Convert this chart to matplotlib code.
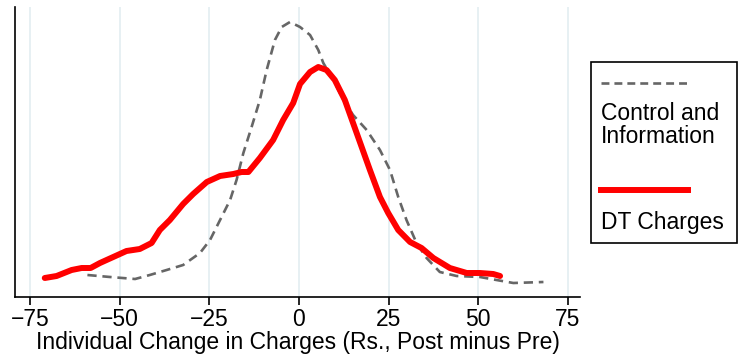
import numpy as np
import matplotlib.pyplot as plt
from matplotlib.patches import Rectangle
from matplotlib.lines import Line2D

plt.rcParams['font.family'] = ['Liberation Sans', 'DejaVu Sans']

# DT Charges (densidad estimada)
x_dt = [-70.9, -67.6, -63.4, -60.6, -58.1, -55.5, -51.8, -48.1, -44.4, -41.1,
        -38.8, -36.0, -32.3, -29.5, -25.7, -22.0, -18.3, -16.0, -14.1, -10.9,
        -7.2, -4.4, -1.6, 0.3, 3.1, 5.4, 7.7, 10.0, 12.8, 15.1,
        17.5, 19.8, 22.6, 24.9, 27.7, 31.0, 34.2, 37.5, 42.1, 46.8,
        50.5, 54.2, 56.1]
y_dt = [0.0019, 0.0021, 0.0027, 0.0029, 0.0029, 0.0034, 0.0040, 0.0046, 0.0048, 0.0054,
        0.0067, 0.0077, 0.0093, 0.0103, 0.0115, 0.0121, 0.0123, 0.0125, 0.0125, 0.0139,
        0.0157, 0.0177, 0.0194, 0.0213, 0.0225, 0.0230, 0.0227, 0.0217, 0.0197, 0.0174,
        0.0150, 0.0127, 0.0100, 0.0084, 0.0067, 0.0055, 0.0049, 0.0039, 0.0029, 0.0024,
        0.0024, 0.0023, 0.0021]

# Control and Information
x_ctrl = [-59.0, -52.7, -45.7, -41.6, -36.9, -32.3, -27.6, -24.8, -22.0, -19.2,
          -17.4, -15.5, -13.2, -10.9, -9.0, -6.7, -4.8, -2.5, 0.3, 3.1,
          5.4, 6.8, 9.6, 12.4, 15.1, 18.9, 22.6, 25.4, 27.7, 30.0,
          32.8, 35.6, 39.3, 44.0, 50.5, 55.1, 59.8, 68.2]
y_ctrl = [0.0022, 0.0020, 0.0018, 0.0022, 0.0027, 0.0032, 0.0044, 0.0057, 0.0077, 0.0097,
          0.0117, 0.0144, 0.0170, 0.0197, 0.0227, 0.0257, 0.0270, 0.0275, 0.0270, 0.0262,
          0.0247, 0.0234, 0.0217, 0.0197, 0.0182, 0.0167, 0.0147, 0.0127, 0.0100, 0.0077,
          0.0054, 0.0039, 0.0025, 0.0021, 0.0020, 0.0017, 0.0014, 0.0015]

xticks = [-75, -50, -25, 0, 25, 50, 75]

W, H = 739, 359
fig = plt.figure(figsize=(W / 100, H / 100), dpi=100)
ax = fig.add_axes([15 / W, (H - 297) / H, (580 - 15) / W, (297 - 7) / H])

ax.plot(x_ctrl, y_ctrl, color='#666666', lw=1.9, dashes=(3.5, 2.2))
ax.plot(x_dt, y_dt, color='#ff0000', lw=4.3, solid_capstyle='round', solid_joinstyle='round')

ax.set_xlim(-79.2, 78.4)
ax.set_ylim(0, 0.029)
ax.set_xticks(xticks)
ax.set_xticklabels([str(t).replace('-', '\u2212') for t in xticks])
ax.set_yticks([])
ax.grid(axis='x', color='#e3edf1', lw=1.2)
ax.set_axisbelow(True)
for s in ['top', 'right']:
    ax.spines[s].set_visible(False)
ax.spines['left'].set_linewidth(1.2)
ax.spines['bottom'].set_linewidth(1.2)
ax.tick_params(axis='x', labelsize=16.5, length=6, width=1.2, pad=2)
ax.set_xlabel('Individual Change in Charges (Rs., Post minus Pre)', fontsize=16.5, labelpad=0)

# Leyenda estilo Stata
fig.patches.append(Rectangle((591 / W, (H - 243) / H), 146 / W, 181 / H,
                             transform=fig.transFigure, fill=False, ec='black', lw=1.2))
fig.lines.append(Line2D([601 / W, 688 / W], [(H - 83) / H] * 2, transform=fig.transFigure,
                        color='#666666', lw=1.9, dashes=(3.0, 1.9)))
fig.text(601 / W, (H - 125) / H, 'Control and\nInformation', fontsize=16.5,
         va='center', ha='left', linespacing=0.95)
fig.lines.append(Line2D([601 / W, 688 / W], [(H - 190) / H] * 2, transform=fig.transFigure,
                        color='#ff0000', lw=4.3))
fig.text(601 / W, (H - 222) / H, 'DT Charges', fontsize=16.5, va='center', ha='left')

fig.savefig('out.png', dpi=100)
